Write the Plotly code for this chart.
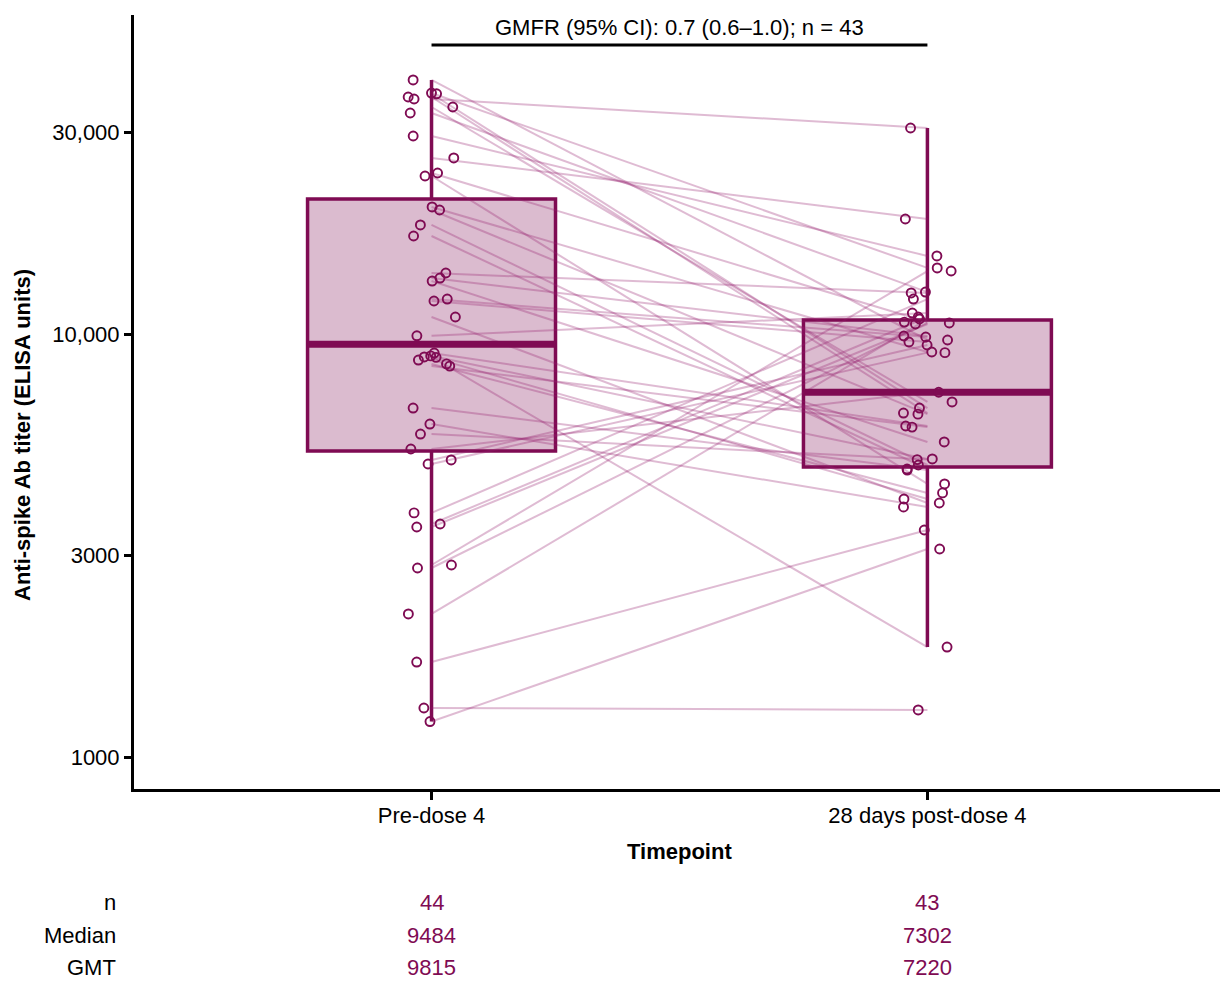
import numpy as np
import plotly.graph_objects as go

# Timepoints on the x axis
timepoints = ["Pre-dose 4", "28 days post-dose 4"]

# Anti-spike Ab titer per participant (ELISA units); None = no post-dose sample
pre_dose = [40000, 37250, 37100, 36450, 36060, 34520, 33410, 29480, 26160, 24100,
            23710, 20030, 19700, 18160, 17100, 13980, 13600, 13380, 12130, 12000,
            11000, 9930, 9038, 8900, 8850, 8830, 8700, 8520, 8420, 6700,
            6140, 5815, 5360, 5050, 4940, 3785, 3563, 3505, 2850, 2804,
            2183, 1680, 1308, 1215]
post_dose = [9705, 14370, 6700, 6520, 30790, 6925, 12600, 15340, 18760, 10700,
             4431, 9090, 6480, 4913, 4807, 12540, 9920, 5570, 9865, 9600,
             3995, 11240, 6075, 5077, 1823, 4083, None, 4220, 6040, 4780,
             3908, 5060, 7302, 9445, 9060, 12130, 11000, 10590, 14130, 10650,
             10880, 3448, 1294, 3109]

# Summary statistics per timepoint
box_q1 = [5302, 4860]
box_median = [9484, 7302]
box_q3 = [20920, 10820]
n_obs = [44, 43]
gmt = [9815, 7220]
gmfr_label = "GMFR (95% CI): 0.7 (0.6\u20131.0); n = 43"

y_tick_vals = [1000, 3000, 10000, 30000]
y_tick_text = ["1000", "3000", "10,000", "30,000"]

MAIN = "#7f0b53"
FILL = "rgba(127,11,83,0.28)"
PAIR_LINE = "rgba(150,30,110,0.30)"
FONT = "Liberation Sans, Arial, sans-serif"
BOX_W = 0.5


def whisker_ends(values, q1, q3):
    """Tukey fences on the log scale, clipped to the observed data."""
    v = np.array([x for x in values if x is not None], dtype=float)
    lq1, lq3 = np.log10(q1), np.log10(q3)
    iqr = lq3 - lq1
    lo_lim, hi_lim = 10 ** (lq1 - 1.5 * iqr), 10 ** (lq3 + 1.5 * iqr)
    inside = v[(v >= lo_lim) & (v <= hi_lim)]
    return inside.min(), inside.max()


series = [pre_dose, post_dose]
lower_fence, upper_fence = [], []
for vals, a, b in zip(series, box_q1, box_q3):
    lo, hi = whisker_ends(vals, a, b)
    lower_fence.append(lo)
    upper_fence.append(hi)

fig = go.Figure()

fig.add_trace(go.Box(
    x=[0, 1], q1=box_q1, median=box_median, q3=box_q3,
    lowerfence=lower_fence, upperfence=upper_fence,
    width=BOX_W, whiskerwidth=0, fillcolor=FILL,
    line=dict(color=MAIN, width=3.5), boxpoints=False,
    showlegend=False, hoverinfo="skip",
))

# paired lines between the two visits
for a, b in zip(pre_dose, post_dose):
    if a is None or b is None:
        continue
    fig.add_trace(go.Scatter(
        x=[0, 1], y=[a, b], mode="lines",
        line=dict(color=PAIR_LINE, width=2),
        showlegend=False, hoverinfo="skip",
    ))

# thicker median bars
for i, m in enumerate(box_median):
    fig.add_trace(go.Scatter(
        x=[i - BOX_W / 2, i + BOX_W / 2], y=[m, m], mode="lines",
        line=dict(color=MAIN, width=7), showlegend=False, hoverinfo="skip",
    ))

# jittered individual titers
rng = np.random.default_rng(11)
for i, vals in enumerate(series):
    v = [x for x in vals if x is not None]
    jitter = rng.uniform(-0.05, 0.05, len(v))
    fig.add_trace(go.Scatter(
        x=i + jitter, y=v, mode="markers",
        marker=dict(symbol="circle-open", size=9, color=MAIN,
                    line=dict(width=1.9, color=MAIN)),
        showlegend=False,
    ))

# plot area geometry (pixels)
W, H = 1220, 981
ML, MR, MT, MB = 134, 0, 15, 192
plot_h = H - MT - MB


def py(pixel_y):
    return (H - MB - pixel_y) / plot_h


annotations = [
    dict(text=gmfr_label, x=0.5, xref="x", y=py(27), yref="paper",
         showarrow=False, font=dict(size=22, color="black"), yanchor="middle"),
    dict(text="<b>Timepoint</b>", x=0.5, xref="x", y=py(851), yref="paper",
         showarrow=False, font=dict(size=22, color="black"), yanchor="middle"),
    dict(text="<b>Anti-spike Ab titer (ELISA units)</b>", textangle=-90,
         x=(22 - ML) / (W - ML - MR), xref="paper", y=py(435), yref="paper",
         showarrow=False, font=dict(size=22, color="black"),
         xanchor="center", yanchor="middle"),
]

row_labels = ["n", "Median", "GMT"]
row_values = [n_obs, box_median, gmt]
row_y = [902, 935, 967]
for lab, vals, ry in zip(row_labels, row_values, row_y):
    annotations.append(dict(
        text=lab, x=(117 - ML) / (W - ML - MR), xref="paper", y=py(ry), yref="paper",
        xanchor="right", yanchor="middle", showarrow=False, borderpad=0,
        font=dict(size=22, color="black")))
    for i, v in enumerate(vals):
        annotations.append(dict(
            text=str(v), x=i, xref="x", y=py(ry), yref="paper",
            xanchor="center", yanchor="middle", showarrow=False, borderpad=0,
            font=dict(size=22, color=MAIN)))

fig.update_layout(
    width=W, height=H,
    margin=dict(l=ML, r=MR, t=MT, b=MB),
    plot_bgcolor="white", paper_bgcolor="white",
    font=dict(family=FONT, size=22, color="black"),
    showlegend=False,
    xaxis=dict(
        range=[-0.6, 1.59], tickvals=[0, 1], ticktext=timepoints,
        showline=True, linecolor="black", linewidth=3,
        ticks="outside", ticklen=8, tickwidth=2.5, tickcolor="black",
        ticklabelstandoff=-3,
        showgrid=False, zeroline=False, tickfont=dict(size=22, color="black"),
    ),
    yaxis=dict(
        type="log", range=[2.925, 4.7557],
        tickvals=y_tick_vals, ticktext=y_tick_text,
        showline=True, linecolor="black", linewidth=3,
        ticks="outside", ticklen=7, tickwidth=2.5, tickcolor="black",
        showgrid=False, zeroline=False, tickfont=dict(size=22, color="black"),
    ),
    shapes=[dict(type="line", xref="x", yref="paper", x0=0, x1=1,
                 y0=py(45), y1=py(45), line=dict(color="black", width=3))],
    annotations=annotations,
)

fig.write_html("out.html")
